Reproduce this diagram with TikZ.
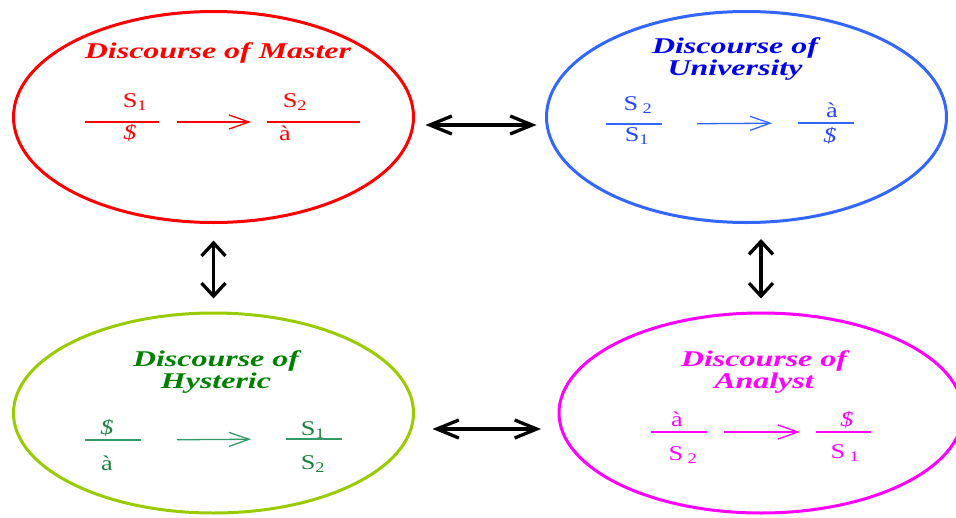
\documentclass[tikz,border=0pt]{standalone}
\usepackage{fontspec}
\setmainfont{Liberation Serif}
\usetikzlibrary{arrows.meta,shapes.geometric}

\definecolor{masterred}{RGB}{255,0,0}
\definecolor{univring}{RGB}{51,102,255}
\definecolor{univtitle}{RGB}{0,0,238}
\definecolor{univsym}{RGB}{40,70,255}
\definecolor{hystring}{RGB}{153,204,0}
\definecolor{hysttitle}{RGB}{0,128,0}
\definecolor{hystsym}{RGB}{25,130,60}
\definecolor{hystline}{RGB}{51,153,102}
\definecolor{anmagenta}{RGB}{255,0,255}

\begin{document}
\begin{tikzpicture}[x=1pt,y=-1pt,
  disc node/.style={ellipse,draw=#1,line width=3pt,inner sep=0pt,minimum width=400pt},
  title node/.style={font=\fontsize{22.5}{22}\selectfont\bfseries\itshape,text=#1,align=center,xscale=1.42,inner sep=0pt},
  sym node/.style={font=\fontsize{21}{21}\selectfont,text=#1,xscale=1.25,inner sep=0pt},
  bar/.style={draw=#1,line width=1.3pt},
  flow/.style={draw=#1,line width=1.3pt,-{Straight Barb[length=20pt,width=14pt,line width=1.3pt]}},
  hlink/.style={line width=3.3pt,{Straight Barb[length=22pt,width=18pt]}-{Straight Barb[length=22pt,width=18pt]}},
  vlink/.style={line width=3.3pt,{Straight Barb[length=13pt,width=24pt]}-{Straight Barb[length=13pt,width=24pt]}}]

 \useasboundingbox (0,0) rectangle (956,517);

 % the four discourses
 \node[disc node=masterred, minimum height=211pt] (master) at (213.5,117) {};
 \node[disc node=univring, minimum height=211pt] (univ) at (746.5,117) {};
 \node[disc node=hystring, minimum height=200pt] (hyst) at (213.5,413) {};
 \node[disc node=anmagenta, minimum width=404pt, minimum height=200pt] (analyst) at (761,413) {};

 % master
 \node[title node=masterred] (mtitle) at (218,53) {Discourse of Master};
 \node[sym node=masterred] (ms1) at (135,102) {S\textsubscript{1}};
 \node[sym node=masterred] (mbarred) at (130,133) {\textit{\$}};
 \node[sym node=masterred] (ms2) at (295,102) {S\textsubscript{2}};
 \node[sym node=masterred] (ma) at (285,133) {à};
 \draw[bar=masterred] (85,122) coordinate (m1l) -- (159,122) coordinate (m1r);
 \draw[bar=masterred] (267,122) coordinate (m2l) -- (360,122) coordinate (m2r);
 \draw[flow=masterred,shorten <=18pt,shorten >=16pt] (m1r) -- (m2l);

 % university
 \node[title node=univtitle] (utitle) at (735,59) {Discourse of\\University};
 \node[sym node=univsym] (us2) at (638,105) {S\,\textsubscript{2}};
 \node[sym node=univsym] (us1) at (637,136) {S\textsubscript{1}};
 \node[sym node=univsym] (ua) at (832,110) {à};
 \node[sym node=univsym] (ubarred) at (830,136) {\textit{\$}};
 \draw[bar=univring] (606,124) coordinate (u1l) -- (662,124) coordinate (u1r);
 \draw[bar=univring] (798,123) coordinate (u2l) -- (854,123) coordinate (u2r);
 \draw[flow=univring,shorten <=35pt,shorten >=26pt] (u1r) -- (u2l);

 % hysteric
 \node[title node=hysttitle] (htitle) at (216,372) {Discourse of\\Hysteric};
 \node[sym node=hystsym] (hbarred) at (107,428) {\textit{\$}};
 \node[sym node=hystsym] (ha) at (107,463) {à};
 \node[sym node=hystsym] (hs1) at (313,430) {S\textsubscript{1}};
 \node[sym node=hystsym] (hs2) at (313,464) {S\textsubscript{2}};
 \draw[bar=hystline] (85,440) coordinate (h1l) -- (141,440) coordinate (h1r);
 \draw[bar=hystline] (286,439) coordinate (h2l) -- (342,439) coordinate (h2r);
 \draw[flow=hystline,shorten <=36pt,shorten >=35pt] (h1r) -- (h2l);

 % analyst
 \node[title node=anmagenta] (atitle) at (764,372) {Discourse of\\Analyst};
 \node[sym node=anmagenta] (aa) at (677,419) {à};
 \node[sym node=anmagenta] (as2) at (683,455) {S\,\textsubscript{2}};
 \node[sym node=anmagenta] (abarred) at (847,420) {\textit{\$}};
 \node[sym node=anmagenta] (as1) at (845,453) {S\,\textsubscript{1}};
 \draw[bar=anmagenta] (651,432) coordinate (a1l) -- (707,432) coordinate (a1r);
 \draw[bar=anmagenta] (816,432) coordinate (a2l) -- (871,432) coordinate (a2r);
 \draw[flow=anmagenta,shorten <=17pt,shorten >=16pt] (a1r) -- (a2l);

 % links between discourses
 \draw[hlink,shorten <=10.5pt,shorten >=8.5pt] ([yshift=-8pt]master.east) -- ([yshift=-8pt]univ.west);
 \draw[hlink,shorten <=17.5pt,shorten >=16.5pt] ([yshift=-16pt]hyst.east) -- ([yshift=-16pt]analyst.west);
 \draw[vlink,shorten <=16.5pt,shorten >=13pt] (master.south) -- (hyst.north);
 \draw[vlink,shorten <=15pt,shorten >=13pt] ([xshift=14.5pt]univ.south) -- (analyst.north);

\end{tikzpicture}
\end{document}
